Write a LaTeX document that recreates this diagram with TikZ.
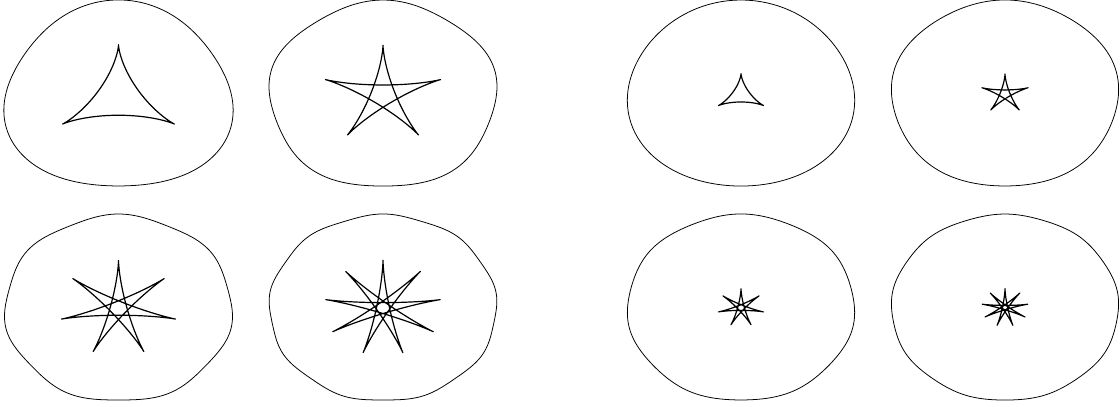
\documentclass[tikz,border=0pt]{standalone}
\usepackage{tikz}
\newcommand{\rimcurve}[4]{% centre x, centre y, folds, bulge
  \draw[rim] plot[domain=0:360, samples=361, variable=\t]
    ({#1 + 1.22*93*(1+#4*cos(#3*\t))*sin(\t)}, {#2 - 93*(1+#4*cos(#3*\t))*cos(\t)}) -- cycle;}
\newcommand{\starcurve}[4]{% centre x, centre y, m, cusp radius
  \draw[star] plot[domain=0:360, samples=901, variable=\t]
    ({#1 + 1.22*#4/(2*#3+1)*(-(#3+1)*sin(#3*\t) + #3*sin((#3+1)*\t))},
     {#2 - #4/(2*#3+1)*((#3+1)*cos(#3*\t) + #3*cos((#3+1)*\t))}) -- cycle;}

\begin{document}
\begin{tikzpicture}[
  x=0.25mm, y=-0.25mm,
  rim/.style={draw=black, line width=0.55pt, line join=round},
  star/.style={draw=black, line width=0.85pt, line join=round},
]
  \useasboundingbox (0,0) rectangle (1120,406);

  \rimcurve{118.5}{97.6}{3}{0.05}
  \starcurve{118.5}{97.6}{1}{52.9}
  \rimcurve{383}{94.9}{5}{0.02}
  \starcurve{383}{94.9}{2}{49.6}
  \rimcurve{118.5}{308.4}{7}{0.015}
  \starcurve{118.5}{308.4}{3}{47.9}
  \rimcurve{383}{307.9}{9}{0.01}
  \starcurve{383}{307.9}{4}{47.6}

  \rimcurve{741}{94.9}{3}{0.02}
  \starcurve{741}{94.9}{1}{21.3}
  \rimcurve{1005}{93.9}{5}{0.01}
  \starcurve{1005}{93.9}{2}{19.9}
  \rimcurve{741}{307.7}{7}{0.008}
  \starcurve{741}{307.7}{3}{18.9}
  \rimcurve{1005}{307.5}{9}{0.005}
  \starcurve{1005}{307.5}{4}{18.9}
\end{tikzpicture}
\end{document}
